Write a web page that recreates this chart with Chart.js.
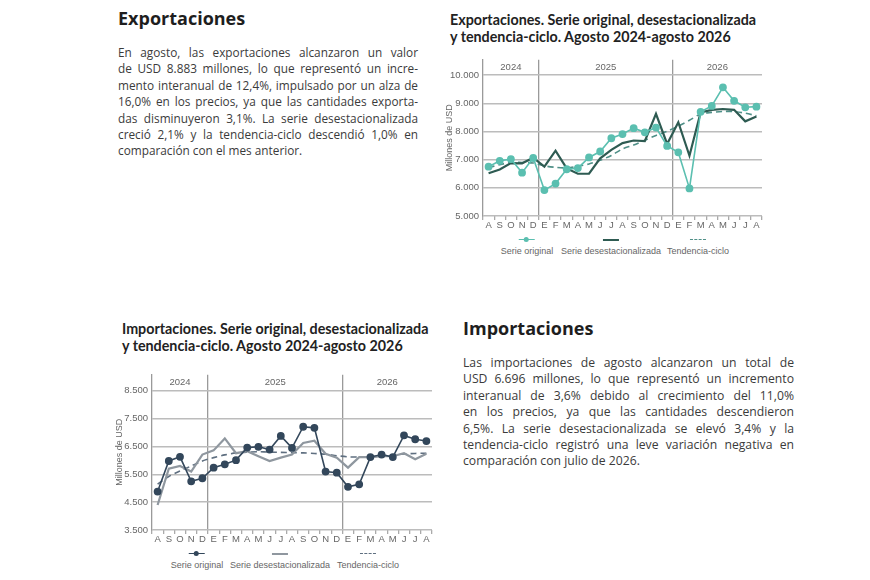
<!DOCTYPE html>
<html>
<head>
<meta charset="utf-8">
<script src="https://cdn.jsdelivr.net/npm/chart.js@4.4.1/dist/chart.umd.min.js"></script>
<style>
body { margin: 0; background: #fff; font-family: 'Open Sans', sans-serif; }
#page { position: relative; width: 870px; height: 580px; overflow: hidden; }
.heading { position: absolute; font-weight: 700; font-size: 18px; color: #1e1e1e; }
.para { position: absolute; font-size: 12.2px; line-height: 16.4px; color: #3b3b3b; }
.para div { text-align: justify; text-align-last: justify; white-space: nowrap; }
.para div.last { text-align-last: left; }
.ctitle { position: absolute; font-family: 'Lato', sans-serif; font-weight: 700; font-size: 14.3px; line-height: 17px; color: #222; }
.box { position: absolute; }
.leg { position: absolute; transform: translateX(-50%); font-family: 'Liberation Sans Narrow', 'Liberation Sans', sans-serif; font-size: 9px; color: #666; text-align: center; white-space: nowrap; }
.sym { position: relative; width: 16px; height: 6px; margin: 0 auto 3px auto; }
.sym span { position: absolute; left: 0; right: 0; top: 2px; }
.sym i { position: absolute; left: 5px; top: 0; width: 5px; height: 5px; border-radius: 50%; }
</style>
</head>
<body>
<div id="page">

  <div class="heading" style="left:118px; top:6px;">Exportaciones</div>
  <div class="para" style="left:118px; top:44px; width:300px; font-size:11.8px;">
    <div>En agosto, las exportaciones alcanzaron un valor</div>
    <div>de USD 8.883 millones, lo que representó un incre-</div>
    <div>mento interanual de 12,4%, impulsado por un alza de</div>
    <div>16,0% en los precios, ya que las cantidades exporta-</div>
    <div>das disminuyeron 3,1%. La serie desestacionalizada</div>
    <div>creció 2,1% y la tendencia-ciclo descendió 1,0% en</div>
    <div class="last">comparación con el mes anterior.</div>
  </div>

  <div class="ctitle" style="left:450px; top:11px;">Exportaciones. Serie original, desestacionalizada<br>y tendencia-ciclo. Agosto 2024-agosto 2026</div>
  <div class="box" style="left:440px; top:50px; width:330px; height:182px;"><canvas id="expChart"></canvas></div>

  <div class="leg" style="left:527px; top:237px;"><div class="sym"><span style="border-top:1.5px solid #5bbfb0"></span><i style="background:#5bbfb0"></i></div>Serie original</div>
  <div class="leg" style="left:611px; top:237px;"><div class="sym"><span style="border-top:2px solid #2e5b52"></span></div>Serie desestacionalizada</div>
  <div class="leg" style="left:698px; top:237px;"><div class="sym"><span style="border-top:1.5px dashed #4f8f87"></span></div>Tendencia-ciclo</div>

  <div class="ctitle" style="left:122px; top:320px;">Importaciones. Serie original, desestacionalizada<br>y tendencia-ciclo. Agosto 2024-agosto 2026</div>
  <div class="box" style="left:110px; top:365px; width:330px; height:181px;"><canvas id="impChart"></canvas></div>

  <div class="leg" style="left:197px; top:551px;"><div class="sym"><span style="border-top:1.5px solid #33475b"></span><i style="background:#33475b"></i></div>Serie original</div>
  <div class="leg" style="left:280px; top:551px;"><div class="sym"><span style="border-top:2px solid #8f979f"></span></div>Serie desestacionalizada</div>
  <div class="leg" style="left:368px; top:551px;"><div class="sym"><span style="border-top:1.5px dashed #5f6f80"></span></div>Tendencia-ciclo</div>

  <div class="heading" style="left:463px; top:316px;">Importaciones</div>
  <div class="para" style="left:463px; top:355px; width:331px;">
    <div>Las importaciones de agosto alcanzaron un total de</div>
    <div>USD 6.696 millones, lo que representó un incremento</div>
    <div>interanual de 3,6% debido al crecimiento del 11,0%</div>
    <div>en los precios, ya que las cantidades descendieron</div>
    <div>6,5%. La serie desestacionalizada se elevó 3,4% y la</div>
    <div>tendencia-ciclo registró una leve variación negativa en</div>
    <div class="last">comparación con julio de 2026.</div>
  </div>
</div>

<script>
'use strict';

let months = ['A', 'S', 'O', 'N', 'D', 'E', 'F', 'M', 'A', 'M', 'J', 'J', 'A', 'S', 'O', 'N', 'D', 'E', 'F', 'M', 'A', 'M', 'J', 'J', 'A'];
let years = ['2024', '2025', '2026'];
let yearStart = [0, 5, 17];

let expOriginal = [6750, 6960, 7020, 6540, 7060, 5920, 6150, 6660, 6700, 7080, 7290, 7760, 7910, 8120, 7970, 8140, 7490, 7260, 5980, 8700, 8910, 9570, 9090, 8860, 8883];
let expDesest = [6520, 6650, 6880, 6870, 7070, 6750, 7320, 6690, 6500, 6500, 7050, 7350, 7590, 7680, 7660, 8630, 7560, 8330, 7140, 8680, 8770, 8800, 8770, 8360, 8530];
let expTend = [6720, 6820, 6910, 6900, 6880, 6780, 6730, 6710, 6760, 6850, 6980, 7150, 7380, 7520, 7690, 7860, 8010, 8190, 8400, 8620, 8680, 8710, 8710, 8650, 8560];
let expTicks = [5000, 6000, 7000, 8000, 9000, 10000];

let impOriginal = [4880, 5980, 6130, 5250, 5360, 5740, 5860, 6010, 6460, 6490, 6390, 6880, 6450, 7210, 7170, 5600, 5560, 5050, 5140, 6120, 6210, 6120, 6900, 6760, 6696];
let impDesest = [4400, 5700, 5800, 5600, 6210, 6360, 6790, 6260, 6330, 6150, 5980, 6100, 6210, 6630, 6710, 6240, 6100, 5740, 6120, 6120, 6150, 6150, 6260, 6040, 6240];
let impTend = [5150, 5420, 5620, 5800, 5980, 6100, 6200, 6270, 6300, 6310, 6300, 6290, 6280, 6270, 6250, 6220, 6170, 6130, 6120, 6130, 6160, 6200, 6230, 6250, 6260];
let impTicks = [3500, 4500, 5500, 6500, 7500, 8500];

let axisFont = { family: "'Liberation Sans Narrow', 'Liberation Sans', sans-serif", size: 9.5 };

// years written in the band above the top gridline
let yearBand = {
    id: 'yearBand',
    afterDraw(chart) {
        let x = chart.scales.x;
        let ctx = chart.ctx;
        ctx.save();
        ctx.font = "9.5px 'Liberation Sans Narrow', 'Liberation Sans', sans-serif";
        ctx.fillStyle = '#666';
        ctx.textAlign = 'center';
        ctx.textBaseline = 'middle';
        for (let i = 0; i < years.length; i++) {
            let first = yearStart[i];
            let last = i + 1 < yearStart.length ? yearStart[i + 1] - 1 : months.length - 1;
            let cx = (x.getPixelForValue(first) + x.getPixelForValue(last)) / 2;
            ctx.fillText(years[i], cx, chart.chartArea.top + 8);
        }
        ctx.restore();
    }
};

function makeChart(id, series, colors, tickVals, yMax, yWidth) {
    let ctx = document.getElementById(id).getContext('2d');
    return new Chart(ctx, {
        type: 'line',
        data: {
            labels: months,
            datasets: [{
                label: 'Serie original',
                data: series[0],
                borderColor: colors[0],
                backgroundColor: colors[0],
                borderWidth: 1.6,
                pointRadius: 3.1,
                pointHoverRadius: 3.1,
                tension: 0,
                order: 1
            }, {
                label: 'Serie desestacionalizada',
                data: series[1],
                borderColor: colors[1],
                borderWidth: 2.2,
                pointRadius: 0,
                tension: 0,
                order: 2
            }, {
                label: 'Tendencia-ciclo',
                data: series[2],
                borderColor: colors[2],
                borderWidth: 1.6,
                borderDash: [6, 4],
                pointRadius: 0,
                tension: 0.3,
                order: 3
            }]
        },
        options: {
            responsive: true,
            maintainAspectRatio: false,
            animation: false,
            layout: { padding: { top: 8, right: 8, left: 0, bottom: 0 } },
            plugins: { legend: { display: false }, tooltip: { enabled: false } },
            scales: {
                x: {
                    offset: true,
                    grid: {
                        offset: true,
                        drawTicks: true,
                        tickLength: 4,
                        lineWidth: 1.3,
                        color: c => (yearStart.includes(c.index) && c.index > 0) ? '#9a9a9a' : 'rgba(0,0,0,0)',
                        tickColor: '#aaa'
                    },
                    border: { display: false },
                    ticks: { color: '#666', font: axisFont, padding: 0, maxRotation: 0, autoSkip: false },
                    afterFit: s => { s.height = 16; }
                },
                y: {
                    min: tickVals[0],
                    max: yMax,
                    afterBuildTicks: s => { s.ticks = tickVals.map(v => ({ value: v })); },
                    grid: { color: '#bcbcbc', lineWidth: 1.5, drawTicks: false },
                    border: { display: true, color: '#9a9a9a', width: 1.3 },
                    ticks: {
                        color: '#666',
                        font: axisFont,
                        padding: 4,
                        callback: v => v.toLocaleString('de-DE')
                    },
                    title: {
                        display: true,
                        text: 'Millones de USD',
                        color: '#666',
                        font: { family: "'Liberation Sans Narrow', 'Liberation Sans', sans-serif", size: 9 },
                        padding: { top: 4, bottom: 0 }
                    },
                    afterFit: s => { s.width = yWidth; }
                }
            }
        },
        plugins: [yearBand]
    });
}

makeChart('expChart', [expOriginal, expDesest, expTend], ['#5bbfb0', '#2e5b52', '#4f8f87'], expTicks, 10550, 43);
makeChart('impChart', [impOriginal, impDesest, impTend], ['#33475b', '#8f979f', '#5f6f80'], impTicks, 9080, 42);
</script>
</body>
</html>
